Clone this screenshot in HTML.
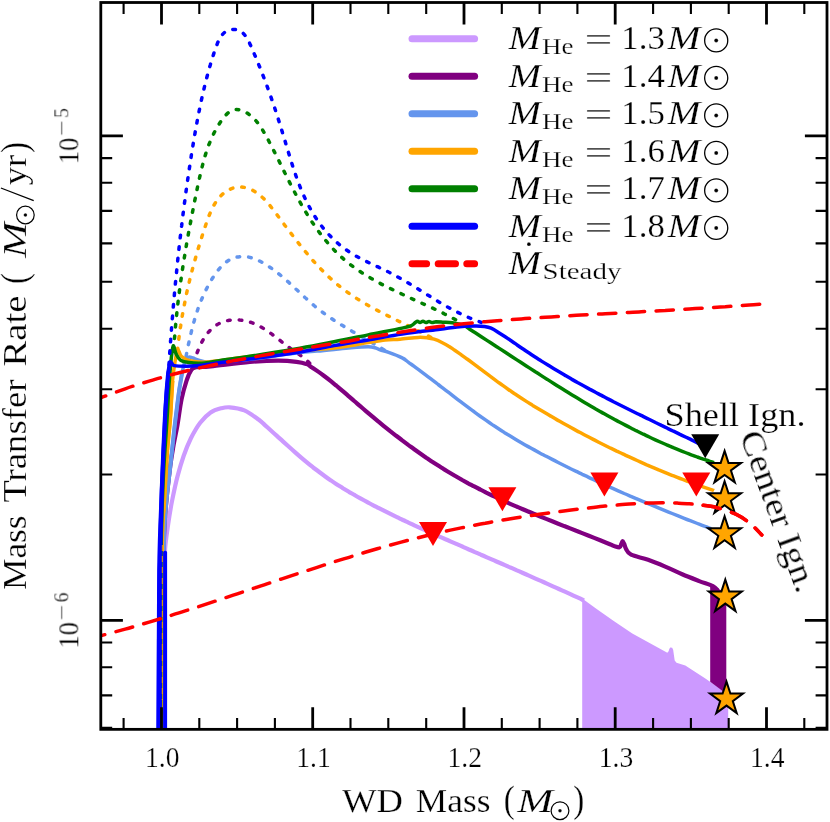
<!DOCTYPE html>
<html><head><meta charset="utf-8"><title>Mass transfer rate</title>
<style>html,body{margin:0;padding:0;background:#fff;overflow:hidden}svg{display:block;position:absolute;left:0;top:0}</style></head>
<body>
<svg width="830" height="822" viewBox="0 0 830 822">
<rect width="830" height="822" fill="#fff"/>
<defs><clipPath id="ax"><rect x="100.8" y="2.5" width="726.2" height="726.85"/></clipPath><clipPath id="ax2"><rect x="700" y="2.5" width="127.0" height="726.85"/></clipPath></defs>
<g clip-path="url(#ax)" fill="none" stroke-linejoin="round">
<path d="M582.2,729.0L582.2,598.6L586.0,601.3L597.0,609.2L614.1,621.2L632.3,633.5L656.4,646.7L667.3,652.8L668.6,651.3L669.3,649.0L670.2,647.6L672.2,647.8L673.2,650.0L673.9,655.0L674.7,660.5L676.5,662.8L685.3,665.5L704.6,678.1L723.9,691.3L728.2,694.0L728.2,729.0" fill="#cc99ff" stroke="none"/>
<path d="M162.5,728.0C162.6,713.3 162.8,664.7 163.0,640.0C163.2,615.3 163.7,595.2 164.0,580.0C164.3,564.8 164.4,558.1 165.1,548.8C165.8,539.5 167.0,532.3 168.2,524.0C169.4,515.7 170.8,507.1 172.4,499.2C174.0,491.3 175.6,483.6 177.5,476.4C179.4,469.2 181.5,462.2 183.7,455.8C185.9,449.4 188.2,443.7 190.9,438.2C193.7,432.7 196.9,427.0 200.2,422.7C203.5,418.4 207.1,414.8 210.6,412.4C214.1,410.0 217.7,409.1 220.9,408.3C224.1,407.5 225.8,407.0 229.7,407.3C233.6,407.6 239.4,408.3 244.3,410.4C249.2,412.5 255.5,417.4 258.9,419.8C262.3,422.3 262.9,423.3 264.9,425.1C266.9,426.9 268.9,428.7 270.9,430.5C272.9,432.3 274.9,434.1 276.9,435.9C278.9,437.7 280.9,439.6 282.9,441.4C284.9,443.2 286.9,445.0 288.9,446.8C290.9,448.6 292.9,450.4 294.9,452.1C296.9,453.9 298.9,455.6 300.9,457.3C302.9,459.0 304.9,460.7 306.9,462.3C308.9,464.0 310.9,465.6 312.9,467.2C314.9,468.7 316.9,470.3 318.9,471.8C320.9,473.3 322.9,474.8 324.9,476.2C326.9,477.7 328.9,479.1 330.9,480.4C332.9,481.8 334.9,483.1 336.9,484.4C338.9,485.7 340.9,486.9 342.9,488.2C344.9,489.4 346.9,490.6 348.9,491.8C350.9,492.9 352.9,494.1 354.9,495.2C356.9,496.4 358.9,497.5 360.9,498.6C362.9,499.7 364.9,500.8 366.9,501.9C368.9,503.0 370.9,504.0 372.9,505.1C374.9,506.1 376.9,507.2 378.9,508.2C380.9,509.2 382.9,510.2 384.9,511.2C386.9,512.2 388.9,513.2 390.9,514.2C392.9,515.2 394.9,516.2 396.9,517.1C398.9,518.1 400.9,519.0 402.9,520.0C404.9,520.9 406.9,521.9 408.9,522.8C410.9,523.7 412.9,524.6 414.9,525.6C416.9,526.5 418.9,527.4 420.9,528.3C422.9,529.2 424.9,530.1 426.9,531.0C428.9,531.9 430.9,532.8 432.9,533.7C434.9,534.5 436.9,535.4 438.9,536.3C440.9,537.2 442.9,538.1 444.9,539.0C446.9,539.8 448.9,540.7 450.9,541.6C452.9,542.5 454.9,543.3 456.9,544.2C458.9,545.1 460.9,546.0 462.9,546.8C464.9,547.7 466.9,548.6 468.9,549.5C470.9,550.3 472.9,551.2 474.9,552.1C476.9,552.9 478.9,553.8 480.9,554.7C482.9,555.5 484.9,556.4 486.9,557.3C488.9,558.2 490.9,559.0 492.9,559.9C494.9,560.8 496.9,561.6 498.9,562.5C500.9,563.4 502.9,564.3 504.9,565.1C506.9,566.0 508.9,566.9 510.9,567.7C512.9,568.6 514.9,569.5 516.9,570.4C518.9,571.2 520.9,572.1 522.9,573.0C524.9,573.9 526.9,574.8 528.9,575.6C530.9,576.5 532.9,577.4 534.9,578.3C536.9,579.2 538.9,580.1 540.9,580.9C542.9,581.8 544.9,582.7 546.9,583.6C548.9,584.5 550.9,585.4 552.9,586.3C554.9,587.2 556.9,588.1 558.9,589.0C560.9,589.9 562.9,590.8 564.9,591.7C566.9,592.6 568.9,593.5 570.9,594.4C572.9,595.4 574.9,596.3 576.9,597.2C578.9,598.1 581.7,599.4 582.9,600.0C584.1,600.5 583.8,600.4 584.0,600.5" stroke="#cc99ff" stroke-width="4.2" stroke-linecap="butt"/>
<path d="M710.2,584.5L726.3,593.0L726.3,693.7L710.2,681.7" fill="#800080" stroke="none"/>
<path d="M194.1,363.9C194.3,363.1 194.8,360.7 195.2,359.1C195.7,357.4 196.2,355.7 196.7,354.0C197.3,352.2 198.0,350.5 198.7,348.8C199.4,347.0 200.2,345.3 201.0,343.6C201.9,341.9 202.8,340.2 203.8,338.6C204.8,337.0 205.9,335.4 207.0,334.0C208.2,332.5 209.4,331.1 210.7,329.8C212.0,328.5 213.3,327.3 214.7,326.3C216.2,325.2 217.7,324.3 219.2,323.5C220.8,322.7 222.4,322.1 224.1,321.5C225.7,321.0 227.5,320.6 229.2,320.3C230.9,320.0 232.7,319.9 234.5,319.8C236.2,319.7 238.0,319.8 239.8,320.0C241.6,320.1 243.4,320.4 245.1,320.8C246.9,321.1 248.6,321.6 250.3,322.2C252.0,322.7 253.7,323.4 255.3,324.1C257.0,324.8 258.6,325.7 260.1,326.5C261.7,327.4 263.3,328.3 264.8,329.3C266.4,330.3 267.9,331.4 269.4,332.4C270.9,333.5 272.4,334.6 273.8,335.7C275.3,336.8 276.8,338.0 278.2,339.1C279.7,340.2 281.2,341.4 282.6,342.5C284.1,343.6 285.5,344.8 287.0,345.9C288.4,347.0 289.9,348.0 291.3,349.1C292.8,350.1 294.3,351.1 295.7,352.1C297.2,353.1 298.6,354.1 300.1,355.1C301.5,356.2 302.9,357.2 304.3,358.3C305.7,359.4 307.0,360.6 308.3,361.8C309.7,363.1 311.5,365.1 312.2,365.8" stroke="#800080" stroke-width="3.5" stroke-dasharray="2.6 9" stroke-dashoffset="0" stroke-linecap="round"/>
<path d="M162.0,728.0C162.2,706.7 162.7,632.3 163.0,600.0C163.3,567.7 163.6,550.4 164.1,534.3C164.6,518.2 165.2,514.7 166.2,503.3C167.2,491.9 169.1,475.8 170.3,466.1C171.5,456.4 172.4,451.9 173.6,445.0C174.8,438.1 176.2,432.4 177.5,424.8C178.8,417.2 180.1,406.4 181.6,399.1C183.1,391.8 184.9,385.7 186.5,380.8C188.1,375.9 189.8,372.2 191.4,369.9C193.0,367.6 193.0,367.8 196.2,367.2C199.4,366.6 201.9,367.3 210.8,366.4C219.7,365.5 238.6,363.0 249.8,362.0C261.0,361.0 270.4,360.6 278.2,360.6C286.0,360.6 291.8,361.2 296.5,361.8C301.2,362.4 303.6,363.0 306.2,363.9C308.8,364.9 310.2,366.3 312.2,367.6C314.2,368.8 316.2,370.2 318.2,371.6C320.2,373.0 322.2,374.5 324.2,376.0C326.2,377.5 328.2,379.0 330.2,380.6C332.2,382.2 334.2,383.9 336.2,385.5C338.2,387.2 340.2,388.9 342.2,390.6C344.2,392.3 346.2,394.1 348.2,395.8C350.2,397.5 352.2,399.3 354.2,401.0C356.2,402.7 358.2,404.5 360.2,406.2C362.2,407.9 364.2,409.6 366.2,411.3C368.2,413.0 370.2,414.7 372.2,416.4C374.2,418.1 376.2,419.7 378.2,421.4C380.2,423.0 382.2,424.7 384.2,426.3C386.2,427.9 388.2,429.5 390.2,431.1C392.2,432.6 394.2,434.2 396.2,435.8C398.2,437.3 400.2,438.8 402.2,440.4C404.2,441.9 406.2,443.4 408.2,444.9C410.2,446.3 412.2,447.8 414.2,449.2C416.2,450.7 418.2,452.1 420.2,453.5C422.2,454.9 424.2,456.3 426.2,457.7C428.2,459.0 430.2,460.4 432.2,461.7C434.2,463.0 436.2,464.3 438.2,465.6C440.2,466.9 442.2,468.1 444.2,469.4C446.2,470.6 448.2,471.8 450.2,473.0C452.2,474.2 454.2,475.4 456.2,476.5C458.2,477.7 460.2,478.8 462.2,480.0C464.2,481.1 466.2,482.2 468.2,483.3C470.2,484.3 472.2,485.4 474.2,486.4C476.2,487.5 478.2,488.5 480.2,489.5C482.2,490.6 484.2,491.6 486.2,492.6C488.2,493.5 490.2,494.5 492.2,495.5C494.2,496.4 496.2,497.4 498.2,498.3C500.2,499.3 502.2,500.2 504.2,501.1C506.2,502.0 508.2,502.9 510.2,503.8C512.2,504.7 514.2,505.6 516.2,506.4C518.2,507.3 520.2,508.2 522.2,509.0C524.2,509.9 526.2,510.7 528.2,511.5C530.2,512.4 532.2,513.2 534.2,514.0C536.2,514.9 538.2,515.7 540.2,516.5C542.2,517.3 544.2,518.1 546.2,518.9C548.2,519.7 550.2,520.5 552.2,521.3C554.2,522.1 556.2,522.9 558.2,523.7C560.2,524.5 562.2,525.3 564.2,526.1C566.2,526.8 568.2,527.6 570.2,528.4C572.2,529.2 574.2,530.0 576.2,530.8C578.2,531.5 580.2,532.3 582.2,533.1C584.2,533.9 586.2,534.7 588.2,535.5C590.2,536.3 592.2,537.1 594.2,537.9C596.2,538.7 598.2,539.5 600.2,540.3C602.2,541.1 604.2,541.9 606.2,542.7C608.2,543.5 610.9,544.6 612.2,545.2C613.5,545.7 612.9,545.6 614.1,546.0C615.3,546.3 618.3,547.6 619.5,547.3C620.7,547.0 620.7,545.3 621.2,544.3C621.7,543.3 622.1,541.1 622.6,541.1C623.1,541.1 623.6,542.7 624.2,544.0C624.8,545.3 624.9,547.0 626.0,548.8C627.1,550.6 627.4,552.9 631.1,554.7C634.8,556.5 642.4,557.8 648.1,559.8C653.8,561.8 659.5,564.2 665.2,566.6C670.9,569.0 676.5,571.9 682.2,574.3C687.9,576.7 694.1,579.1 699.2,581.1C704.3,583.1 709.8,584.6 712.9,586.2C716.0,587.8 717.1,589.8 718.0,590.5" stroke="#800080" stroke-width="4.2" stroke-linecap="butt"/>
<path d="M186.1,356.0C186.3,355.0 186.9,352.0 187.3,350.0C187.7,348.0 188.1,346.1 188.5,344.1C189.0,342.1 189.4,340.2 189.8,338.2C190.3,336.3 190.7,334.4 191.2,332.4C191.6,330.5 192.1,328.6 192.6,326.7C193.1,324.8 193.6,322.9 194.2,321.0C194.7,319.1 195.3,317.2 195.8,315.3C196.4,313.4 197.1,311.5 197.7,309.7C198.3,307.8 199.0,306.0 199.7,304.1C200.4,302.2 201.2,300.4 202.0,298.5C202.8,296.7 203.6,294.9 204.4,293.0C205.3,291.2 206.2,289.4 207.2,287.5C208.1,285.7 209.1,283.9 210.2,282.1C211.2,280.3 212.3,278.4 213.5,276.7C214.6,274.9 215.8,273.1 217.1,271.5C218.4,269.8 219.7,268.2 221.1,266.8C222.5,265.3 223.9,263.9 225.4,262.7C226.9,261.5 228.5,260.4 230.1,259.5C231.8,258.7 233.5,258.0 235.3,257.5C237.1,257.0 238.9,256.7 240.8,256.6C242.7,256.4 244.6,256.5 246.5,256.8C248.4,257.0 250.3,257.4 252.2,258.0C254.1,258.6 256.0,259.3 257.8,260.1C259.6,261.0 261.4,262.0 263.2,263.0C264.9,264.0 266.7,265.1 268.3,266.2C270.0,267.3 271.7,268.4 273.3,269.6C274.9,270.8 276.5,272.0 278.1,273.3C279.7,274.5 281.2,275.8 282.8,277.1C284.3,278.4 285.8,279.8 287.3,281.1C288.8,282.4 290.3,283.8 291.8,285.2C293.3,286.5 294.7,287.9 296.2,289.3C297.7,290.6 299.1,292.0 300.6,293.4C302.1,294.8 303.5,296.1 305.0,297.5C306.5,298.8 308.0,300.2 309.5,301.5C311.0,302.9 312.5,304.2 314.0,305.5C315.5,306.8 317.1,308.0 318.6,309.3C320.2,310.5 321.8,311.7 323.4,312.9C325.0,314.1 326.6,315.2 328.3,316.4C329.9,317.5 331.6,318.6 333.2,319.7C334.9,320.8 336.6,321.9 338.3,323.0C340.0,324.0 341.7,325.1 343.4,326.1C345.1,327.1 346.8,328.2 348.6,329.2C350.3,330.2 352.0,331.2 353.8,332.2C355.5,333.2 357.2,334.2 359.0,335.2C360.7,336.2 362.5,337.2 364.2,338.2C365.9,339.2 367.7,340.2 369.4,341.1C371.1,342.1 372.9,343.1 374.6,344.2C376.3,345.2 378.0,346.2 379.7,347.2C381.4,348.2 383.9,349.8 384.8,350.3" stroke="#6495ed" stroke-width="3.5" stroke-dasharray="2.6 9" stroke-dashoffset="0" stroke-linecap="round"/>
<path d="M162.0,728.0C162.2,706.7 162.7,632.3 163.0,600.0C163.3,567.7 163.6,550.4 164.1,534.3C164.6,518.2 165.2,514.7 166.2,503.3C167.2,491.9 168.9,478.7 170.3,466.1C171.7,453.6 173.2,438.5 174.4,428.0C175.6,417.5 176.7,409.7 177.5,403.0C178.3,396.3 178.7,393.1 179.5,388.0C180.3,382.9 181.8,374.9 182.2,372.3" stroke="#6495ed" stroke-width="4.0"/>
<path d="M162.0,728.0C162.2,706.7 162.7,632.3 163.0,600.0C163.3,567.7 163.6,550.4 164.1,534.3C164.6,518.2 165.2,514.7 166.2,503.3C167.2,491.9 168.9,478.7 170.3,466.1C171.7,453.6 173.2,438.5 174.4,428.0C175.6,417.5 176.7,409.7 177.5,403.0C178.3,396.3 178.7,393.1 179.5,388.0C180.3,382.9 181.2,376.9 182.2,372.3C183.2,367.7 184.2,362.6 185.3,360.1C186.4,357.6 187.6,357.5 188.9,357.1C190.2,356.8 191.4,357.5 193.0,358.0C194.6,358.5 196.1,359.4 198.7,360.1C201.3,360.8 203.2,361.9 208.4,362.0C213.6,362.1 223.1,361.4 230.0,361.0C236.9,360.6 242.3,360.1 249.8,359.3C257.3,358.5 266.6,357.1 275.0,356.0C283.4,354.9 293.0,353.3 300.0,352.5C307.0,351.7 311.3,351.6 317.0,351.1C322.7,350.6 328.4,350.0 334.1,349.4C339.8,348.8 345.4,348.1 351.1,347.7C356.8,347.3 364.1,346.8 368.1,346.8C372.1,346.8 372.9,347.2 374.9,347.7C376.9,348.2 377.8,349.0 380.1,349.8C382.4,350.6 384.9,351.0 388.6,352.3C392.3,353.6 398.9,356.2 402.2,357.9C405.5,359.5 406.2,360.7 408.2,362.1C410.2,363.5 412.2,365.0 414.2,366.4C416.2,367.9 418.2,369.3 420.2,370.8C422.2,372.3 424.2,373.8 426.2,375.3C428.2,376.8 430.2,378.4 432.2,379.9C434.2,381.4 436.2,382.9 438.2,384.5C440.2,386.0 442.2,387.6 444.2,389.1C446.2,390.6 448.2,392.2 450.2,393.7C452.2,395.3 454.2,396.8 456.2,398.3C458.2,399.8 460.2,401.4 462.2,402.9C464.2,404.4 466.2,405.9 468.2,407.4C470.2,408.9 472.2,410.4 474.2,411.8C476.2,413.3 478.2,414.8 480.2,416.2C482.2,417.6 484.2,419.0 486.2,420.4C488.2,421.8 490.2,423.2 492.2,424.6C494.2,425.9 496.2,427.2 498.2,428.5C500.2,429.8 502.2,431.1 504.2,432.4C506.2,433.6 508.2,434.9 510.2,436.1C512.2,437.3 514.2,438.5 516.2,439.7C518.2,440.9 520.2,442.1 522.2,443.2C524.2,444.4 526.2,445.5 528.2,446.6C530.2,447.7 532.2,448.8 534.2,449.9C536.2,451.0 538.2,452.1 540.2,453.2C542.2,454.2 544.2,455.3 546.2,456.3C548.2,457.4 550.2,458.4 552.2,459.4C554.2,460.5 556.2,461.5 558.2,462.5C560.2,463.5 562.2,464.5 564.2,465.5C566.2,466.5 568.2,467.5 570.2,468.5C572.2,469.4 574.2,470.4 576.2,471.4C578.2,472.4 580.2,473.3 582.2,474.3C584.2,475.2 586.2,476.2 588.2,477.1C590.2,478.1 592.2,479.0 594.2,479.9C596.2,480.9 598.2,481.8 600.2,482.7C602.2,483.6 604.2,484.5 606.2,485.4C608.2,486.4 610.2,487.3 612.2,488.1C614.2,489.0 616.2,489.9 618.2,490.8C620.2,491.7 622.2,492.6 624.2,493.5C626.2,494.3 628.2,495.2 630.2,496.1C632.2,496.9 634.2,497.8 636.2,498.6C638.2,499.5 640.2,500.3 642.2,501.2C644.2,502.0 646.2,502.9 648.2,503.7C650.2,504.6 652.2,505.4 654.2,506.2C656.2,507.0 658.2,507.9 660.2,508.7C662.2,509.5 664.2,510.3 666.2,511.1C668.2,511.9 670.2,512.7 672.2,513.5C674.2,514.3 676.2,515.1 678.2,515.9C680.2,516.7 682.2,517.5 684.2,518.3C686.2,519.1 688.2,519.9 690.2,520.6C692.2,521.4 694.2,522.2 696.2,523.0C698.2,523.8 700.2,524.5 702.2,525.3C704.2,526.1 706.7,527.0 708.2,527.6C709.7,528.2 710.7,528.5 711.2,528.7" stroke="#6495ed" stroke-width="3.5" stroke-linecap="butt"/>
<path d="M177.4,350.7C177.5,349.6 177.9,346.4 178.1,344.3C178.4,342.2 178.6,340.1 178.9,338.0C179.2,335.9 179.5,333.8 179.7,331.8C180.0,329.7 180.3,327.6 180.7,325.6C181.0,323.5 181.3,321.5 181.6,319.5C182.0,317.4 182.3,315.4 182.7,313.4C183.0,311.4 183.4,309.4 183.8,307.4C184.2,305.4 184.6,303.4 185.0,301.4C185.4,299.4 185.8,297.4 186.2,295.4C186.6,293.4 187.0,291.4 187.5,289.5C187.9,287.5 188.4,285.5 188.9,283.6C189.3,281.6 189.8,279.6 190.3,277.6C190.8,275.7 191.3,273.7 191.8,271.7C192.3,269.8 192.8,267.8 193.3,265.8C193.9,263.9 194.4,261.9 195.0,259.9C195.5,257.9 196.1,256.0 196.6,254.0C197.2,252.0 197.8,250.0 198.4,248.0C199.0,246.1 199.6,244.1 200.2,242.1C200.8,240.1 201.5,238.1 202.1,236.1C202.7,234.0 203.4,232.0 204.1,230.0C204.7,228.0 205.4,225.9 206.1,223.9C206.8,221.9 207.5,219.8 208.2,217.8C209.0,215.8 209.8,213.8 210.6,211.9C211.5,210.0 212.3,208.1 213.3,206.3C214.3,204.5 215.4,202.7 216.5,201.1C217.7,199.4 219.0,197.8 220.3,196.4C221.7,194.9 223.2,193.6 224.8,192.4C226.4,191.3 228.1,190.2 229.8,189.4C231.5,188.6 233.4,187.9 235.2,187.5C237.1,187.1 239.0,186.9 240.9,187.0C242.8,187.1 244.7,187.4 246.6,187.9C248.4,188.4 250.3,189.2 252.1,190.1C254.0,191.0 255.7,192.1 257.4,193.3C259.1,194.5 260.7,195.8 262.2,197.2C263.8,198.6 265.2,200.1 266.6,201.6C268.0,203.2 269.3,204.8 270.6,206.4C271.9,208.1 273.2,209.8 274.5,211.4C275.7,213.1 277.0,214.8 278.3,216.5C279.5,218.2 280.8,219.9 282.0,221.5C283.3,223.2 284.5,224.9 285.8,226.6C287.1,228.2 288.3,229.9 289.6,231.6C290.8,233.2 292.1,234.9 293.4,236.5C294.6,238.2 295.9,239.8 297.2,241.5C298.5,243.1 299.7,244.7 301.0,246.3C302.3,247.9 303.6,249.5 304.9,251.1C306.3,252.7 307.6,254.3 308.9,255.8C310.2,257.4 311.6,258.9 312.9,260.5C314.3,262.0 315.7,263.5 317.1,265.0C318.4,266.5 319.8,268.0 321.3,269.5C322.7,270.9 324.1,272.4 325.6,273.8C327.0,275.2 328.5,276.6 330.0,278.0C331.5,279.4 333.0,280.7 334.5,282.0C336.1,283.4 337.6,284.7 339.2,286.0C340.8,287.2 342.4,288.5 344.0,289.7C345.6,291.0 347.3,292.2 349.0,293.3C350.6,294.5 352.4,295.7 354.1,296.8C355.8,297.9 357.5,299.0 359.3,300.1C361.0,301.2 362.8,302.3 364.6,303.3C366.4,304.4 368.2,305.4 370.0,306.4C371.8,307.4 373.7,308.4 375.5,309.4C377.3,310.4 379.2,311.4 381.0,312.3C382.9,313.3 384.8,314.2 386.6,315.2C388.5,316.1 390.4,317.1 392.2,318.0C394.1,318.9 396.0,319.8 397.8,320.7C399.7,321.7 401.6,322.6 403.4,323.5C405.3,324.4 407.2,325.3 409.0,326.2C410.9,327.1 412.7,328.0 414.5,329.0C416.4,329.9 418.2,330.8 420.0,331.7C421.8,332.6 423.6,333.6 425.4,334.5C427.2,335.4 429.0,336.4 430.8,337.3C432.5,338.3 435.1,339.7 436.0,340.2" stroke="#ffa500" stroke-width="3.5" stroke-dasharray="2.6 9" stroke-dashoffset="0" stroke-linecap="round"/>
<path d="M161.5,728.0C161.6,698.1 161.6,586.2 162.0,548.8C162.4,511.3 163.2,519.5 164.1,503.3C165.0,487.1 166.2,465.6 167.2,451.7C168.2,437.8 169.4,428.6 170.1,420.0C170.8,411.4 170.9,406.5 171.3,400.0C171.7,393.5 172.3,384.0 172.5,380.8" stroke="#ffa500" stroke-width="4.0"/>
<path d="M161.5,728.0C161.6,698.1 161.6,586.2 162.0,548.8C162.4,511.3 163.2,519.5 164.1,503.3C165.0,487.1 166.2,465.6 167.2,451.7C168.2,437.8 169.4,428.6 170.1,420.0C170.8,411.4 170.9,406.5 171.3,400.0C171.7,393.5 171.9,387.0 172.5,380.8C173.1,374.6 174.1,367.7 174.9,362.6C175.7,357.5 176.7,352.2 177.4,350.4C178.1,348.5 178.3,350.5 179.0,351.5C179.7,352.5 179.8,354.9 181.6,356.5C183.4,358.1 186.4,359.8 190.1,360.8C193.8,361.8 198.5,362.4 204.0,362.3C209.5,362.2 215.4,361.2 223.0,360.2C230.6,359.2 239.3,357.8 249.8,356.5C260.3,355.2 276.0,353.7 286.0,352.6C296.0,351.5 302.0,350.8 310.0,350.0C318.0,349.2 327.2,348.7 334.1,348.0C341.0,347.3 345.4,346.5 351.1,345.6C356.8,344.7 362.4,343.5 368.1,342.6C373.8,341.7 379.9,340.6 385.2,340.0C390.5,339.4 394.5,339.6 400.0,339.2C405.5,338.8 413.5,337.6 418.2,337.4C422.9,337.2 425.4,337.6 428.0,337.9C430.6,338.2 431.9,338.5 434.1,339.2C436.3,339.9 439.0,341.0 441.4,342.2C443.8,343.4 446.5,344.8 448.7,346.2C450.9,347.5 452.7,348.9 454.7,350.2C456.7,351.6 458.7,353.0 460.7,354.4C462.7,355.9 464.7,357.3 466.7,358.8C468.7,360.2 470.7,361.7 472.7,363.2C474.7,364.7 476.7,366.2 478.7,367.7C480.7,369.2 482.7,370.7 484.7,372.2C486.7,373.7 488.7,375.2 490.7,376.6C492.7,378.1 494.7,379.6 496.7,381.1C498.7,382.5 500.7,384.0 502.7,385.4C504.7,386.9 506.7,388.3 508.7,389.7C510.7,391.1 512.7,392.4 514.7,393.8C516.7,395.1 518.7,396.4 520.7,397.7C522.7,399.0 524.7,400.3 526.7,401.6C528.7,402.9 530.7,404.1 532.7,405.4C534.7,406.6 536.7,407.8 538.7,409.0C540.7,410.2 542.7,411.4 544.7,412.6C546.7,413.8 548.7,415.0 550.7,416.1C552.7,417.3 554.7,418.5 556.7,419.6C558.7,420.7 560.7,421.9 562.7,423.0C564.7,424.1 566.7,425.2 568.7,426.3C570.7,427.4 572.7,428.5 574.7,429.6C576.7,430.7 578.7,431.8 580.7,432.8C582.7,433.9 584.7,435.0 586.7,436.0C588.7,437.1 590.7,438.1 592.7,439.1C594.7,440.2 596.7,441.2 598.7,442.2C600.7,443.2 602.7,444.2 604.7,445.2C606.7,446.2 608.7,447.2 610.7,448.2C612.7,449.1 614.7,450.1 616.7,451.1C618.7,452.0 620.7,453.0 622.7,453.9C624.7,454.8 626.7,455.8 628.7,456.7C630.7,457.6 632.7,458.5 634.7,459.4C636.7,460.3 638.7,461.2 640.7,462.1C642.7,463.0 644.7,463.9 646.7,464.8C648.7,465.6 650.7,466.5 652.7,467.3C654.7,468.2 656.7,469.0 658.7,469.9C660.7,470.7 662.7,471.5 664.7,472.3C666.7,473.2 668.7,474.0 670.7,474.8C672.7,475.6 674.7,476.3 676.7,477.1C678.7,477.9 680.7,478.7 682.7,479.4C684.7,480.2 686.7,480.9 688.7,481.7C690.7,482.4 692.7,483.2 694.7,483.9C696.7,484.6 698.7,485.3 700.7,486.0C702.7,486.8 704.7,487.5 706.7,488.1C708.7,488.8 711.5,489.8 712.7,490.2C713.9,490.6 713.8,490.5 714.0,490.6" stroke="#ffa500" stroke-width="3.5" stroke-linecap="butt"/>
<path d="M173.7,350.1C173.8,349.1 174.0,346.1 174.1,344.1C174.2,342.1 174.4,340.1 174.5,338.1C174.7,336.1 174.9,334.1 175.0,332.1C175.2,330.1 175.4,328.1 175.5,326.2C175.7,324.2 175.9,322.2 176.1,320.2C176.3,318.2 176.5,316.2 176.7,314.3C176.9,312.3 177.1,310.3 177.3,308.3C177.6,306.4 177.8,304.4 178.0,302.4C178.2,300.5 178.5,298.5 178.7,296.5C179.0,294.6 179.2,292.6 179.5,290.6C179.7,288.7 180.0,286.7 180.3,284.8C180.5,282.8 180.8,280.8 181.1,278.9C181.4,276.9 181.6,275.0 181.9,273.0C182.2,271.1 182.5,269.1 182.8,267.2C183.1,265.2 183.4,263.2 183.7,261.3C184.0,259.3 184.4,257.4 184.7,255.5C185.0,253.5 185.3,251.6 185.6,249.6C186.0,247.7 186.3,245.7 186.6,243.8C187.0,241.8 187.3,239.9 187.7,237.9C188.0,236.0 188.4,234.0 188.7,232.1C189.1,230.1 189.4,228.2 189.8,226.2C190.2,224.3 190.5,222.3 190.9,220.4C191.3,218.4 191.6,216.5 192.0,214.5C192.4,212.6 192.8,210.7 193.2,208.7C193.6,206.8 193.9,204.8 194.3,202.8C194.7,200.9 195.1,198.9 195.5,197.0C195.9,195.0 196.3,193.1 196.7,191.1C197.1,189.2 197.5,187.2 197.9,185.2C198.4,183.3 198.8,181.3 199.2,179.4C199.6,177.4 200.1,175.5 200.5,173.5C201.0,171.6 201.4,169.6 201.9,167.7C202.4,165.7 202.9,163.8 203.4,161.9C203.9,159.9 204.5,158.0 205.0,156.1C205.6,154.2 206.2,152.3 206.8,150.4C207.5,148.5 208.1,146.7 208.8,144.8C209.6,143.0 210.3,141.1 211.1,139.3C211.9,137.5 212.7,135.7 213.6,133.9C214.5,132.1 215.4,130.4 216.4,128.6C217.4,126.9 218.4,125.2 219.5,123.5C220.6,121.8 221.7,120.1 222.9,118.5C224.1,117.0 225.4,115.4 226.8,114.1C228.1,112.9 229.5,111.7 231.0,110.9C232.6,110.1 234.2,109.6 235.8,109.5C237.5,109.4 239.3,109.7 241.1,110.2C242.8,110.7 244.7,111.6 246.3,112.6C248.0,113.6 249.6,114.7 251.1,116.0C252.6,117.2 254.0,118.7 255.3,120.1C256.7,121.6 257.9,123.2 259.1,124.9C260.3,126.5 261.5,128.3 262.6,130.0C263.7,131.8 264.7,133.6 265.8,135.5C266.8,137.3 267.8,139.1 268.8,141.0C269.7,142.8 270.7,144.6 271.6,146.5C272.6,148.3 273.5,150.1 274.4,151.9C275.3,153.7 276.2,155.5 277.1,157.3C278.0,159.1 278.9,160.8 279.8,162.6C280.7,164.4 281.5,166.1 282.4,167.9C283.3,169.7 284.1,171.4 285.0,173.2C285.9,174.9 286.7,176.7 287.6,178.4C288.5,180.2 289.3,181.9 290.2,183.6C291.1,185.4 292.0,187.1 292.9,188.8C293.8,190.6 294.7,192.3 295.6,194.0C296.5,195.7 297.4,197.4 298.4,199.2C299.3,200.9 300.3,202.6 301.2,204.3C302.2,206.1 303.2,207.8 304.2,209.5C305.2,211.2 306.3,212.9 307.3,214.6C308.4,216.3 309.4,218.0 310.5,219.7C311.6,221.4 312.7,223.0 313.9,224.7C315.0,226.4 316.1,228.0 317.3,229.6C318.5,231.3 319.7,232.9 320.9,234.5C322.1,236.1 323.3,237.6 324.6,239.2C325.9,240.7 327.2,242.3 328.5,243.8C329.8,245.3 331.1,246.8 332.4,248.2C333.8,249.7 335.2,251.1 336.6,252.5C338.0,253.9 339.4,255.2 340.9,256.6C342.3,257.9 343.8,259.2 345.3,260.5C346.8,261.7 348.3,263.0 349.9,264.2C351.4,265.4 353.0,266.6 354.6,267.7C356.2,268.9 357.8,270.0 359.5,271.1C361.1,272.2 362.7,273.2 364.4,274.3C366.1,275.3 367.8,276.4 369.5,277.4C371.2,278.4 372.9,279.4 374.6,280.4C376.3,281.3 378.1,282.3 379.8,283.2C381.6,284.2 383.3,285.1 385.1,286.0C386.9,286.9 388.7,287.8 390.5,288.7C392.3,289.5 394.1,290.4 395.9,291.3C397.7,292.1 399.5,293.0 401.3,293.8C403.1,294.7 404.9,295.5 406.7,296.4C408.6,297.2 410.4,298.0 412.2,298.9C414.0,299.7 415.8,300.5 417.7,301.3C419.5,302.2 421.3,303.0 423.1,303.8C424.9,304.6 426.8,305.5 428.6,306.3C430.4,307.1 432.2,308.0 434.0,308.8C435.8,309.7 437.5,310.5 439.3,311.4C441.1,312.2 442.9,313.1 444.6,314.0C446.4,314.9 448.1,315.7 449.9,316.6C451.6,317.6 453.3,318.5 455.0,319.4C456.8,320.3 459.3,321.8 460.1,322.2" stroke="#008000" stroke-width="3.5" stroke-dasharray="2.6 9" stroke-dashoffset="0" stroke-linecap="round"/>
<path d="M160.5,728.0C160.6,700.0 160.6,601.3 161.0,560.0C161.4,518.7 162.2,503.3 163.2,480.0C164.2,456.7 166.0,435.8 167.0,420.0C168.0,404.2 168.3,395.3 169.0,385.0C169.7,374.7 170.6,364.5 171.3,358.0C172.0,351.5 172.6,347.7 173.1,346.2C173.6,344.7 174.0,347.7 174.5,349.0C175.0,350.3 175.2,352.2 176.2,354.1C177.2,356.0 178.3,358.7 180.4,360.1C182.5,361.5 184.9,362.1 188.9,362.6C192.9,363.1 199.0,363.4 204.7,363.0C210.4,362.6 215.5,361.0 223.0,359.9C230.5,358.8 237.0,358.2 249.8,356.3C262.6,354.4 285.9,350.6 300.0,348.2C314.1,345.8 322.8,344.0 334.1,341.8C345.5,339.6 356.8,337.2 368.1,334.9C379.5,332.6 394.9,329.7 402.2,328.1C409.4,326.5 409.5,326.4 411.6,325.5C413.7,324.6 414.0,323.5 415.0,322.8C416.0,322.1 416.7,321.3 417.5,321.3C418.3,321.3 419.1,322.6 420.0,322.6C420.9,322.6 422.0,321.2 423.0,321.2C424.0,321.2 425.0,322.6 426.0,322.6C427.0,322.6 428.0,321.4 429.0,321.4C430.0,321.4 430.8,322.4 432.0,322.5C433.2,322.6 434.2,321.9 436.0,321.8C437.8,321.8 439.9,322.0 442.6,322.2C445.3,322.4 448.9,322.3 452.3,322.8C455.8,323.3 460.5,324.2 463.3,325.2C466.1,326.2 467.3,327.7 469.3,329.0C471.3,330.3 473.3,331.6 475.3,332.8C477.3,334.1 479.3,335.4 481.3,336.7C483.3,338.0 485.3,339.3 487.3,340.6C489.3,341.9 491.3,343.2 493.3,344.5C495.3,345.8 497.3,347.1 499.3,348.4C501.3,349.7 503.3,351.0 505.3,352.3C507.3,353.6 509.3,354.9 511.3,356.2C513.3,357.5 515.3,358.8 517.3,360.1C519.3,361.4 521.3,362.7 523.3,364.0C525.3,365.3 527.3,366.6 529.3,367.9C531.3,369.2 533.3,370.5 535.3,371.8C537.3,373.0 539.3,374.3 541.3,375.6C543.3,376.9 545.3,378.2 547.3,379.4C549.3,380.7 551.3,382.0 553.3,383.2C555.3,384.5 557.3,385.8 559.3,387.0C561.3,388.3 563.3,389.5 565.3,390.7C567.3,392.0 569.3,393.2 571.3,394.4C573.3,395.6 575.3,396.9 577.3,398.1C579.3,399.3 581.3,400.5 583.3,401.7C585.3,402.9 587.3,404.0 589.3,405.2C591.3,406.4 593.3,407.5 595.3,408.7C597.3,409.8 599.3,411.0 601.3,412.1C603.3,413.2 605.3,414.4 607.3,415.5C609.3,416.6 611.3,417.7 613.3,418.8C615.3,419.9 617.3,420.9 619.3,422.0C621.3,423.1 623.3,424.1 625.3,425.1C627.3,426.2 629.3,427.2 631.3,428.2C633.3,429.2 635.3,430.3 637.3,431.2C639.3,432.2 641.3,433.2 643.3,434.2C645.3,435.1 647.3,436.1 649.3,437.0C651.3,438.0 653.3,438.9 655.3,439.8C657.3,440.7 659.3,441.6 661.3,442.5C663.3,443.4 665.3,444.3 667.3,445.1C669.3,446.0 671.3,446.8 673.3,447.7C675.3,448.5 677.3,449.3 679.3,450.1C681.3,450.9 683.3,451.7 685.3,452.5C687.3,453.3 689.3,454.0 691.3,454.8C693.3,455.5 695.3,456.2 697.3,457.0C699.3,457.7 701.3,458.4 703.3,459.1C705.3,459.7 707.5,460.5 709.3,461.1C711.1,461.6 713.2,462.3 714.0,462.6" stroke="#008000" stroke-width="3.5" stroke-linecap="butt"/>
<path d="M167.6,388.1C167.6,387.1 167.8,384.0 167.9,382.0C168.1,380.0 168.2,378.0 168.3,376.0C168.4,373.9 168.5,371.9 168.7,369.9C168.8,367.9 168.9,365.9 169.0,363.9C169.2,361.9 169.3,359.8 169.4,357.8C169.6,355.8 169.7,353.8 169.8,351.8C170.0,349.8 170.1,347.8 170.3,345.7C170.4,343.7 170.5,341.7 170.7,339.7C170.8,337.7 171.0,335.7 171.1,333.7C171.3,331.7 171.4,329.7 171.6,327.7C171.8,325.6 171.9,323.6 172.1,321.6C172.2,319.6 172.4,317.6 172.6,315.6C172.7,313.6 172.9,311.6 173.1,309.6C173.2,307.6 173.4,305.6 173.6,303.6C173.7,301.6 173.9,299.6 174.1,297.6C174.3,295.6 174.5,293.5 174.6,291.5C174.8,289.5 175.0,287.5 175.2,285.5C175.4,283.5 175.6,281.5 175.8,279.5C176.0,277.5 176.2,275.5 176.4,273.5C176.6,271.5 176.8,269.5 177.0,267.5C177.2,265.5 177.4,263.5 177.6,261.5C177.8,259.5 178.0,257.5 178.2,255.5C178.5,253.5 178.7,251.5 178.9,249.5C179.1,247.5 179.3,245.5 179.6,243.5C179.8,241.5 180.0,239.5 180.2,237.5C180.5,235.5 180.7,233.5 180.9,231.5C181.2,229.5 181.4,227.5 181.7,225.5C181.9,223.5 182.1,221.5 182.4,219.5C182.6,217.5 182.9,215.5 183.1,213.5C183.4,211.5 183.7,209.5 183.9,207.5C184.2,205.5 184.4,203.5 184.7,201.5C185.0,199.5 185.2,197.5 185.5,195.5C185.8,193.5 186.0,191.5 186.3,189.5C186.6,187.5 186.9,185.5 187.2,183.5C187.4,181.6 187.7,179.6 188.0,177.6C188.3,175.6 188.6,173.6 188.9,171.6C189.2,169.6 189.5,167.6 189.8,165.6C190.1,163.6 190.4,161.6 190.7,159.6C191.0,157.6 191.3,155.6 191.6,153.6C191.9,151.6 192.3,149.6 192.6,147.6C192.9,145.6 193.2,143.6 193.6,141.6C193.9,139.6 194.2,137.6 194.6,135.6C194.9,133.6 195.3,131.6 195.6,129.7C196.0,127.7 196.3,125.7 196.7,123.7C197.1,121.7 197.4,119.7 197.8,117.8C198.2,115.8 198.6,113.8 199.0,111.8C199.4,109.9 199.8,107.9 200.2,105.9C200.6,104.0 201.0,102.0 201.4,100.1C201.8,98.1 202.3,96.2 202.7,94.2C203.2,92.3 203.6,90.3 204.1,88.4C204.6,86.4 205.0,84.5 205.5,82.6C206.0,80.6 206.5,78.7 207.0,76.8C207.5,74.9 208.0,73.0 208.5,71.1C209.1,69.2 209.6,67.3 210.2,65.3C210.7,63.4 211.3,61.5 211.9,59.6C212.5,57.6 213.1,55.7 213.8,53.6C214.4,51.6 215.1,49.6 215.9,47.5C216.6,45.5 217.4,43.3 218.3,41.4C219.2,39.5 220.1,37.6 221.3,36.0C222.5,34.4 223.8,32.9 225.4,31.8C226.9,30.8 228.8,30.0 230.6,29.7C232.5,29.3 234.7,29.3 236.5,29.7C238.3,30.0 240.0,30.8 241.4,31.9C242.9,32.9 244.2,34.3 245.3,35.8C246.5,37.3 247.5,39.2 248.5,41.0C249.5,42.8 250.3,44.8 251.2,46.7C252.0,48.7 252.9,50.6 253.7,52.6C254.5,54.5 255.4,56.4 256.2,58.3C257.0,60.3 257.7,62.2 258.5,64.1C259.3,66.0 260.1,67.9 260.8,69.8C261.6,71.7 262.3,73.6 263.0,75.5C263.8,77.4 264.5,79.2 265.2,81.1C265.9,83.0 266.6,84.9 267.3,86.8C268.0,88.6 268.6,90.5 269.3,92.4C270.0,94.3 270.6,96.2 271.3,98.0C271.9,99.9 272.6,101.8 273.2,103.7C273.9,105.5 274.5,107.4 275.1,109.3C275.7,111.2 276.4,113.1 277.0,115.0C277.6,116.9 278.2,118.8 278.8,120.7C279.4,122.6 280.0,124.5 280.6,126.4C281.2,128.3 281.8,130.2 282.3,132.1C282.9,134.0 283.5,136.0 284.1,137.9C284.7,139.8 285.3,141.8 285.8,143.7C286.4,145.7 287.0,147.6 287.6,149.6C288.2,151.5 288.8,153.5 289.4,155.4C290.0,157.4 290.6,159.3 291.2,161.3C291.8,163.2 292.4,165.2 293.0,167.1C293.7,169.1 294.3,171.0 295.0,172.9C295.6,174.9 296.3,176.8 297.0,178.7C297.7,180.6 298.4,182.5 299.1,184.4C299.9,186.3 300.6,188.2 301.4,190.1C302.2,191.9 303.0,193.8 303.8,195.6C304.6,197.5 305.5,199.3 306.3,201.1C307.2,202.9 308.1,204.7 309.1,206.5C310.0,208.2 311.0,210.0 312.0,211.7C313.0,213.4 314.0,215.1 315.1,216.8C316.2,218.5 317.3,220.1 318.4,221.7C319.6,223.4 320.8,225.0 322.0,226.5C323.2,228.1 324.5,229.6 325.8,231.2C327.1,232.7 328.4,234.1 329.8,235.6C331.2,237.0 332.6,238.4 334.0,239.8C335.5,241.2 336.9,242.5 338.5,243.8C340.0,245.1 341.5,246.3 343.1,247.5C344.7,248.7 346.3,249.9 348.0,251.0C349.6,252.2 351.3,253.2 353.0,254.3C354.7,255.3 356.5,256.3 358.3,257.3C360.0,258.2 361.8,259.2 363.6,260.1C365.4,261.0 367.3,261.9 369.1,262.8C370.9,263.7 372.8,264.5 374.6,265.4C376.4,266.3 378.3,267.1 380.1,268.0C382.0,268.9 383.8,269.7 385.7,270.6C387.5,271.5 389.3,272.4 391.1,273.4C392.9,274.3 394.7,275.2 396.5,276.2C398.2,277.2 400.0,278.2 401.8,279.2C403.5,280.2 405.2,281.2 407.0,282.2C408.7,283.2 410.4,284.3 412.1,285.3C413.9,286.4 415.6,287.4 417.3,288.5C419.0,289.5 420.7,290.6 422.4,291.7C424.1,292.7 425.8,293.8 427.5,294.9C429.2,295.9 430.9,297.0 432.6,298.0C434.3,299.1 436.0,300.2 437.7,301.2C439.4,302.2 441.2,303.3 442.9,304.3C444.6,305.3 446.4,306.3 448.1,307.3C449.9,308.3 451.6,309.2 453.4,310.2C455.2,311.1 457.0,312.0 458.8,312.9C460.6,313.8 462.4,314.7 464.2,315.6C466.1,316.4 467.9,317.2 469.8,318.0C471.7,318.8 473.6,319.6 475.5,320.3C477.4,321.0 480.4,322.0 481.3,322.4" stroke="#0000ff" stroke-width="3.5" stroke-dasharray="2.6 9" stroke-dashoffset="0" stroke-linecap="round"/>
<path d="M156.3,730 L157.25,600 L158.4,540 L159.7,490 L161.3,450 L163,415 L164.6,390 L166.2,372 L168.2,362 L169.6,372 L168.9,390 L167.3,415 L165.5,450 L164,490 L162.6,540 L162,600 L161.9,730Z" fill="#0000ff" stroke="none"/>
<path d="M162.3,545V700" stroke="#ffa500" stroke-width="0.9" stroke-dasharray="6 5"/>
<path d="M158.5,728.0C158.6,701.7 158.3,611.3 158.9,570.0C159.5,528.7 161.0,505.0 162.0,480.0C163.0,455.0 164.1,434.5 164.8,420.0C165.5,405.5 165.8,400.6 166.4,393.0C167.0,385.4 167.6,379.8 168.2,374.7C168.8,369.6 169.5,364.5 170.1,362.6C170.7,360.7 171.3,363.0 172.0,363.5C172.7,364.0 171.9,365.2 174.3,365.6C176.7,366.1 182.4,366.2 186.5,366.2C190.6,366.2 193.6,366.1 198.7,365.6C203.8,365.1 208.4,364.1 216.9,363.0C225.4,361.9 236.0,360.8 249.8,359.0C263.7,357.2 285.9,354.2 300.0,352.0C314.1,349.8 322.8,347.6 334.1,345.6C345.5,343.6 356.8,341.9 368.1,340.0C379.5,338.1 390.2,335.9 402.2,334.1C414.2,332.3 430.9,330.4 440.0,329.2C449.1,328.0 451.3,327.4 457.0,326.9C462.7,326.3 469.6,326.0 474.1,325.9C478.7,325.8 481.5,326.0 484.3,326.4C487.1,326.8 488.6,327.0 491.1,328.1C493.7,329.2 496.2,331.0 499.6,333.2C503.0,335.4 508.5,339.0 511.5,341.0C514.5,343.0 515.5,343.8 517.5,345.2C519.5,346.6 521.5,348.0 523.5,349.3C525.5,350.7 527.5,352.0 529.5,353.3C531.5,354.7 533.5,356.0 535.5,357.3C537.5,358.6 539.5,359.8 541.5,361.1C543.5,362.4 545.5,363.6 547.5,364.8C549.5,366.1 551.5,367.3 553.5,368.5C555.5,369.7 557.5,370.9 559.5,372.1C561.5,373.3 563.5,374.5 565.5,375.6C567.5,376.8 569.5,377.9 571.5,379.1C573.5,380.2 575.5,381.3 577.5,382.5C579.5,383.6 581.5,384.7 583.5,385.8C585.5,386.9 587.5,388.0 589.5,389.1C591.5,390.1 593.5,391.2 595.5,392.3C597.5,393.3 599.5,394.4 601.5,395.4C603.5,396.5 605.5,397.5 607.5,398.6C609.5,399.6 611.5,400.6 613.5,401.7C615.5,402.7 617.5,403.7 619.5,404.7C621.5,405.7 623.5,406.7 625.5,407.7C627.5,408.7 629.5,409.7 631.5,410.7C633.5,411.7 635.5,412.7 637.5,413.7C639.5,414.7 641.5,415.6 643.5,416.6C645.5,417.6 647.5,418.6 649.5,419.5C651.5,420.5 653.5,421.5 655.5,422.5C657.5,423.4 659.5,424.4 661.5,425.4C663.5,426.3 665.5,427.3 667.5,428.3C669.5,429.2 671.5,430.2 673.5,431.2C675.5,432.1 677.5,433.1 679.5,434.1C681.5,435.0 683.5,436.0 685.5,437.0C687.5,438.0 689.5,438.9 691.5,439.9C693.5,440.9 696.1,442.2 697.5,442.9C698.9,443.6 699.6,443.9 700.0,444.1" stroke="#0000ff" stroke-width="3.5" stroke-linecap="butt"/>
<path d="M101.2,397.7C103.2,397.0 109.2,394.6 113.2,393.1C117.2,391.6 121.2,390.2 125.2,388.8C129.2,387.4 133.2,386.1 137.2,384.8C141.2,383.5 145.2,382.3 149.2,381.1C153.2,379.9 157.2,378.7 161.2,377.6C165.2,376.5 169.2,375.4 173.2,374.3C177.2,373.3 181.2,372.3 185.2,371.3C189.2,370.3 193.2,369.3 197.2,368.4C201.2,367.5 205.2,366.6 209.2,365.7C213.2,364.9 217.2,364.0 221.2,363.2C225.2,362.4 229.2,361.6 233.2,360.8C237.2,360.0 241.2,359.3 245.2,358.6C249.2,357.8 253.2,357.1 257.2,356.4C261.2,355.7 265.2,355.0 269.2,354.3C273.2,353.6 277.2,352.9 281.2,352.2C285.2,351.6 289.2,350.9 293.2,350.2C297.2,349.6 301.2,348.9 305.2,348.3C309.2,347.6 313.2,346.9 317.2,346.3C321.2,345.6 325.2,345.0 329.2,344.3C333.2,343.6 337.2,342.9 341.2,342.2C345.2,341.6 349.2,340.9 353.2,340.2C357.2,339.5 361.2,338.8 365.2,338.1C369.2,337.4 373.2,336.7 377.2,336.1C381.2,335.4 385.2,334.7 389.2,334.0C393.2,333.4 397.2,332.7 401.2,332.1C405.2,331.4 409.2,330.8 413.2,330.2C417.2,329.6 421.2,329.0 425.2,328.4C429.2,327.9 433.2,327.3 437.2,326.8C441.2,326.3 445.2,325.8 449.2,325.3C453.2,324.9 457.2,324.4 461.2,324.0C465.2,323.6 469.2,323.2 473.2,322.8C477.2,322.4 481.2,322.1 485.2,321.7C489.2,321.4 493.2,321.0 497.2,320.7C501.2,320.4 505.2,320.1 509.2,319.8C513.2,319.5 517.2,319.2 521.2,318.9C525.2,318.7 529.2,318.4 533.2,318.1C537.2,317.8 541.2,317.6 545.2,317.3C549.2,317.1 553.2,316.8 557.2,316.6C561.2,316.3 565.2,316.1 569.2,315.8C573.2,315.6 577.2,315.4 581.2,315.1C585.2,314.9 589.2,314.7 593.2,314.4C597.2,314.2 601.2,314.0 605.2,313.7C609.2,313.5 613.2,313.3 617.2,313.1C621.2,312.8 625.2,312.6 629.2,312.4C633.2,312.2 637.2,312.0 641.2,311.7C645.2,311.5 649.2,311.3 653.2,311.1C657.2,310.8 661.2,310.6 665.2,310.4C669.2,310.1 673.2,309.9 677.2,309.7C681.2,309.4 685.2,309.2 689.2,309.0C693.2,308.7 697.2,308.5 701.2,308.2C705.2,308.0 709.2,307.7 713.2,307.5C717.2,307.2 721.2,306.9 725.2,306.7C729.2,306.4 733.2,306.1 737.2,305.8C741.2,305.6 745.2,305.3 749.2,305.0C753.2,304.7 759.1,304.2 761.2,304.1C763.3,303.9 761.9,304.0 762.0,304.0" stroke="#ff0000" stroke-width="3.5" stroke-dasharray="17.3 11.5" stroke-dashoffset="12.4" stroke-linecap="round"/>
<path d="M101.2,635.6C103.2,635.1 109.2,633.5 113.2,632.4C117.2,631.3 121.2,630.2 125.2,629.1C129.2,628.0 133.2,626.8 137.2,625.6C141.2,624.5 145.2,623.3 149.2,622.1C153.2,620.9 157.2,619.7 161.2,618.5C165.2,617.2 169.2,616.0 173.2,614.7C177.2,613.5 181.2,612.2 185.2,610.9C189.2,609.6 193.2,608.3 197.2,607.1C201.2,605.8 205.2,604.4 209.2,603.1C213.2,601.8 217.2,600.5 221.2,599.2C225.2,597.8 229.2,596.5 233.2,595.2C237.2,593.8 241.2,592.5 245.2,591.2C249.2,589.8 253.2,588.5 257.2,587.1C261.2,585.8 265.2,584.5 269.2,583.1C273.2,581.8 277.2,580.4 281.2,579.1C285.2,577.8 289.2,576.4 293.2,575.1C297.2,573.8 301.2,572.5 305.2,571.2C309.2,569.9 313.2,568.6 317.2,567.3C321.2,566.0 325.2,564.7 329.2,563.4C333.2,562.1 337.2,560.9 341.2,559.6C345.2,558.4 349.2,557.2 353.2,555.9C357.2,554.7 361.2,553.5 365.2,552.3C369.2,551.1 373.2,550.0 377.2,548.8C381.2,547.7 385.2,546.5 389.2,545.4C393.2,544.3 397.2,543.2 401.2,542.1C405.2,541.1 409.2,540.0 413.2,539.0C417.2,538.0 421.2,537.0 425.2,536.0C429.2,535.0 433.2,534.1 437.2,533.1C441.2,532.2 445.2,531.3 449.2,530.4C453.2,529.6 457.2,528.7 461.2,527.9C465.2,527.1 469.2,526.3 473.2,525.5C477.2,524.7 481.2,523.9 485.2,523.2C489.2,522.4 493.2,521.7 497.2,521.0C501.2,520.3 505.2,519.6 509.2,519.0C513.2,518.3 517.2,517.7 521.2,517.0C525.2,516.4 529.2,515.8 533.2,515.2C537.2,514.6 541.2,514.1 545.2,513.5C549.2,512.9 553.2,512.4 557.2,511.9C561.2,511.3 565.2,510.8 569.2,510.3C573.2,509.8 577.2,509.3 581.2,508.8C585.2,508.4 589.2,507.9 593.2,507.4C597.2,507.0 601.2,506.6 605.2,506.1C609.2,505.7 613.2,505.3 617.2,505.0C621.2,504.6 625.2,504.3 629.2,504.0C633.2,503.7 637.2,503.5 641.2,503.3C645.2,503.1 649.2,502.9 653.2,502.9C657.2,502.8 661.2,502.7 665.2,502.8C669.2,502.8 673.2,502.9 677.2,503.1C681.2,503.3 685.5,503.5 689.2,503.8C692.9,504.1 694.7,504.2 699.2,504.9C703.7,505.5 710.1,505.9 716.3,507.5C722.5,509.1 730.5,511.6 736.3,514.4C742.1,517.2 746.6,520.7 750.9,524.1C755.1,527.5 760.0,533.2 761.8,535.0" stroke="#ff0000" stroke-width="3.5" stroke-dasharray="17.3 11.5" stroke-dashoffset="13.5" stroke-linecap="round"/>
<rect x="163.1" y="550.8" width="4" height="180" rx="1.8" fill="#0000ff"/>
</g>
<g stroke="#000" fill="none">
<path d="M123.6,729.35V717.95M123.6,2.5V13.9" stroke-width="2.1"/>
<path d="M161.5,729.35V707.25M161.5,2.5V24.6" stroke-width="2.8"/>
<path d="M199.3,729.35V717.95M199.3,2.5V13.9" stroke-width="2.1"/>
<path d="M237.1,729.35V717.95M237.1,2.5V13.9" stroke-width="2.1"/>
<path d="M274.9,729.35V717.95M274.9,2.5V13.9" stroke-width="2.1"/>
<path d="M312.7,729.35V707.25M312.7,2.5V24.6" stroke-width="2.8"/>
<path d="M350.5,729.35V717.95M350.5,2.5V13.9" stroke-width="2.1"/>
<path d="M388.3,729.35V717.95M388.3,2.5V13.9" stroke-width="2.1"/>
<path d="M426.2,729.35V717.95M426.2,2.5V13.9" stroke-width="2.1"/>
<path d="M464.0,729.35V707.25M464.0,2.5V24.6" stroke-width="2.8"/>
<path d="M501.8,729.35V717.95M501.8,2.5V13.9" stroke-width="2.1"/>
<path d="M539.6,729.35V717.95M539.6,2.5V13.9" stroke-width="2.1"/>
<path d="M577.4,729.35V717.95M577.4,2.5V13.9" stroke-width="2.1"/>
<path d="M615.2,729.35V707.25M615.2,2.5V24.6" stroke-width="2.8"/>
<path d="M653.1,729.35V717.95M653.1,2.5V13.9" stroke-width="2.1"/>
<path d="M690.9,729.35V717.95M690.9,2.5V13.9" stroke-width="2.1"/>
<path d="M728.7,729.35V717.95M728.7,2.5V13.9" stroke-width="2.1"/>
<path d="M766.5,729.35V707.25M766.5,2.5V24.6" stroke-width="2.8"/>
<path d="M804.3,729.35V717.95M804.3,2.5V13.9" stroke-width="2.1"/>
<path d="M100.8,135.9H122.9M827.0,135.9H804.9" stroke-width="2.8"/>
<path d="M100.8,620.4H122.9M827.0,620.4H804.9" stroke-width="2.8"/>
<path d="M100.8,474.5H112.2M827.0,474.5H815.6" stroke-width="2.1"/>
<path d="M100.8,389.2H112.2M827.0,389.2H815.6" stroke-width="2.1"/>
<path d="M100.8,328.7H112.2M827.0,328.7H815.6" stroke-width="2.1"/>
<path d="M100.8,281.7H112.2M827.0,281.7H815.6" stroke-width="2.1"/>
<path d="M100.8,243.4H112.2M827.0,243.4H815.6" stroke-width="2.1"/>
<path d="M100.8,210.9H112.2M827.0,210.9H815.6" stroke-width="2.1"/>
<path d="M100.8,182.8H112.2M827.0,182.8H815.6" stroke-width="2.1"/>
<path d="M100.8,158.1H112.2M827.0,158.1H815.6" stroke-width="2.1"/>
<path d="M100.8,727.8H112.2M827.0,727.8H815.6" stroke-width="2.1"/>
<path d="M100.8,695.4H112.2M827.0,695.4H815.6" stroke-width="2.1"/>
<path d="M100.8,667.3H112.2M827.0,667.3H815.6" stroke-width="2.1"/>
<path d="M100.8,642.5H112.2M827.0,642.5H815.6" stroke-width="2.1"/>
<rect x="100.8" y="2.5" width="726.2" height="726.85" stroke-width="2.8"/>
</g>
<path d="M419.0,522.0H447.0L433,546.0Z" fill="#ff0000"/>
<path d="M488.4,487.2H516.4L502.4,511.2Z" fill="#ff0000"/>
<path d="M590.4,472.4H618.4L604.4,496.4Z" fill="#ff0000"/>
<path d="M682.3,472.4H710.3L696.3,496.4Z" fill="#ff0000"/>
<path d="M691.2,434.2H719.2L705.2,458.2Z" fill="#000"/>
<path d="M724.6,450.9L728.5,462.9L741.1,462.9L730.9,470.4L734.8,482.4L724.6,474.9L714.4,482.4L718.3,470.4L708.1,462.9L720.7,462.9Z" fill="#ffa500" stroke="#000" stroke-width="2" stroke-linejoin="miter"/>
<path d="M724.6,481.3L728.5,493.3L741.1,493.3L730.9,500.8L734.8,512.8L724.6,505.3L714.4,512.8L718.3,500.8L708.1,493.3L720.7,493.3Z" fill="#ffa500" stroke="#000" stroke-width="2" stroke-linejoin="miter"/>
<path d="M724.6,516.3L728.5,528.3L741.1,528.3L730.9,535.8L734.8,547.8L724.6,540.3L714.4,547.8L718.3,535.8L708.1,528.3L720.7,528.3Z" fill="#ffa500" stroke="#000" stroke-width="2" stroke-linejoin="miter"/>
<path d="M725.3,579.6L729.2,591.6L741.8,591.6L731.6,599.1L735.5,611.1L725.3,603.6L715.1,611.1L719.0,599.1L708.8,591.6L721.4,591.6Z" fill="#ffa500" stroke="#000" stroke-width="2" stroke-linejoin="miter"/>
<path d="M726.5,681.6L730.4,693.6L743.0,693.6L732.8,701.1L736.7,713.1L726.5,705.6L716.3,713.1L720.2,701.1L710.0,693.6L722.6,693.6Z" fill="#ffa500" stroke="#000" stroke-width="2" stroke-linejoin="miter"/>
<path d="M101.2,635.6C103.2,635.1 109.2,633.5 113.2,632.4C117.2,631.3 121.2,630.2 125.2,629.1C129.2,628.0 133.2,626.8 137.2,625.6C141.2,624.5 145.2,623.3 149.2,622.1C153.2,620.9 157.2,619.7 161.2,618.5C165.2,617.2 169.2,616.0 173.2,614.7C177.2,613.5 181.2,612.2 185.2,610.9C189.2,609.6 193.2,608.3 197.2,607.1C201.2,605.8 205.2,604.4 209.2,603.1C213.2,601.8 217.2,600.5 221.2,599.2C225.2,597.8 229.2,596.5 233.2,595.2C237.2,593.8 241.2,592.5 245.2,591.2C249.2,589.8 253.2,588.5 257.2,587.1C261.2,585.8 265.2,584.5 269.2,583.1C273.2,581.8 277.2,580.4 281.2,579.1C285.2,577.8 289.2,576.4 293.2,575.1C297.2,573.8 301.2,572.5 305.2,571.2C309.2,569.9 313.2,568.6 317.2,567.3C321.2,566.0 325.2,564.7 329.2,563.4C333.2,562.1 337.2,560.9 341.2,559.6C345.2,558.4 349.2,557.2 353.2,555.9C357.2,554.7 361.2,553.5 365.2,552.3C369.2,551.1 373.2,550.0 377.2,548.8C381.2,547.7 385.2,546.5 389.2,545.4C393.2,544.3 397.2,543.2 401.2,542.1C405.2,541.1 409.2,540.0 413.2,539.0C417.2,538.0 421.2,537.0 425.2,536.0C429.2,535.0 433.2,534.1 437.2,533.1C441.2,532.2 445.2,531.3 449.2,530.4C453.2,529.6 457.2,528.7 461.2,527.9C465.2,527.1 469.2,526.3 473.2,525.5C477.2,524.7 481.2,523.9 485.2,523.2C489.2,522.4 493.2,521.7 497.2,521.0C501.2,520.3 505.2,519.6 509.2,519.0C513.2,518.3 517.2,517.7 521.2,517.0C525.2,516.4 529.2,515.8 533.2,515.2C537.2,514.6 541.2,514.1 545.2,513.5C549.2,512.9 553.2,512.4 557.2,511.9C561.2,511.3 565.2,510.8 569.2,510.3C573.2,509.8 577.2,509.3 581.2,508.8C585.2,508.4 589.2,507.9 593.2,507.4C597.2,507.0 601.2,506.6 605.2,506.1C609.2,505.7 613.2,505.3 617.2,505.0C621.2,504.6 625.2,504.3 629.2,504.0C633.2,503.7 637.2,503.5 641.2,503.3C645.2,503.1 649.2,502.9 653.2,502.9C657.2,502.8 661.2,502.7 665.2,502.8C669.2,502.8 673.2,502.9 677.2,503.1C681.2,503.3 685.5,503.5 689.2,503.8C692.9,504.1 694.7,504.2 699.2,504.9C703.7,505.5 710.1,505.9 716.3,507.5C722.5,509.1 730.5,511.6 736.3,514.4C742.1,517.2 746.6,520.7 750.9,524.1C755.1,527.5 760.0,533.2 761.8,535.0" fill="none" clip-path="url(#ax2)" stroke="#ff0000" stroke-width="3.5" stroke-dasharray="17.3 11.5" stroke-dashoffset="13.5" stroke-linecap="round"/>
<path d="M412,38.7H474.6" stroke="#cc99ff" stroke-width="7" stroke-linecap="round"/>
<path d="M412,76.2H474.6" stroke="#800080" stroke-width="7" stroke-linecap="round"/>
<path d="M412,113.7H474.6" stroke="#6495ed" stroke-width="7" stroke-linecap="round"/>
<path d="M412,151.2H474.6" stroke="#ffa500" stroke-width="7" stroke-linecap="round"/>
<path d="M412,188.7H474.6" stroke="#008000" stroke-width="7" stroke-linecap="round"/>
<path d="M412,226.2H474.6" stroke="#0000ff" stroke-width="7" stroke-linecap="round"/>
<path d="M412,263.7H426.6M438.2,263.7H455.5M466.8,263.7H474.6" stroke="#ff0000" stroke-width="7" stroke-linecap="round"/>
<g font-family="'Liberation Serif', serif" fill="#000" stroke="#fff" stroke-width="0.25" paint-order="fill stroke" opacity="0.999">
<text x="508.5" y="49.2" font-size="34" font-style="italic" textLength="32.5" lengthAdjust="spacingAndGlyphs" text-anchor="start">M</text>
<text x="542" y="54.2" font-size="22.5" textLength="31.5" lengthAdjust="spacingAndGlyphs" text-anchor="start">He</text>
<text x="584.5" y="51.0" font-size="34" textLength="28" lengthAdjust="spacingAndGlyphs" text-anchor="start">=</text>
<text x="621.3" y="49.2" font-size="34" textLength="43.5" lengthAdjust="spacingAndGlyphs" text-anchor="start">1.3</text>
<text x="667.5" y="49.2" font-size="34" font-style="italic" textLength="33" lengthAdjust="spacingAndGlyphs" text-anchor="start">M</text>
<circle cx="716.2" cy="40.400000000000006" r="11.55" fill="none" stroke="#000" stroke-width="1.3"/><circle cx="716.2" cy="40.400000000000006" r="2.0" fill="#000"/>
<text x="508.5" y="86.7" font-size="34" font-style="italic" textLength="32.5" lengthAdjust="spacingAndGlyphs" text-anchor="start">M</text>
<text x="542" y="91.7" font-size="22.5" textLength="31.5" lengthAdjust="spacingAndGlyphs" text-anchor="start">He</text>
<text x="584.5" y="88.5" font-size="34" textLength="28" lengthAdjust="spacingAndGlyphs" text-anchor="start">=</text>
<text x="621.3" y="86.7" font-size="34" textLength="43.5" lengthAdjust="spacingAndGlyphs" text-anchor="start">1.4</text>
<text x="667.5" y="86.7" font-size="34" font-style="italic" textLength="33" lengthAdjust="spacingAndGlyphs" text-anchor="start">M</text>
<circle cx="716.2" cy="77.9" r="11.55" fill="none" stroke="#000" stroke-width="1.3"/><circle cx="716.2" cy="77.9" r="2.0" fill="#000"/>
<text x="508.5" y="124.2" font-size="34" font-style="italic" textLength="32.5" lengthAdjust="spacingAndGlyphs" text-anchor="start">M</text>
<text x="542" y="129.2" font-size="22.5" textLength="31.5" lengthAdjust="spacingAndGlyphs" text-anchor="start">He</text>
<text x="584.5" y="126.0" font-size="34" textLength="28" lengthAdjust="spacingAndGlyphs" text-anchor="start">=</text>
<text x="621.3" y="124.2" font-size="34" textLength="43.5" lengthAdjust="spacingAndGlyphs" text-anchor="start">1.5</text>
<text x="667.5" y="124.2" font-size="34" font-style="italic" textLength="33" lengthAdjust="spacingAndGlyphs" text-anchor="start">M</text>
<circle cx="716.2" cy="115.4" r="11.55" fill="none" stroke="#000" stroke-width="1.3"/><circle cx="716.2" cy="115.4" r="2.0" fill="#000"/>
<text x="508.5" y="161.7" font-size="34" font-style="italic" textLength="32.5" lengthAdjust="spacingAndGlyphs" text-anchor="start">M</text>
<text x="542" y="166.7" font-size="22.5" textLength="31.5" lengthAdjust="spacingAndGlyphs" text-anchor="start">He</text>
<text x="584.5" y="163.5" font-size="34" textLength="28" lengthAdjust="spacingAndGlyphs" text-anchor="start">=</text>
<text x="621.3" y="161.7" font-size="34" textLength="43.5" lengthAdjust="spacingAndGlyphs" text-anchor="start">1.6</text>
<text x="667.5" y="161.7" font-size="34" font-style="italic" textLength="33" lengthAdjust="spacingAndGlyphs" text-anchor="start">M</text>
<circle cx="716.2" cy="152.89999999999998" r="11.55" fill="none" stroke="#000" stroke-width="1.3"/><circle cx="716.2" cy="152.89999999999998" r="2.0" fill="#000"/>
<text x="508.5" y="199.2" font-size="34" font-style="italic" textLength="32.5" lengthAdjust="spacingAndGlyphs" text-anchor="start">M</text>
<text x="542" y="204.2" font-size="22.5" textLength="31.5" lengthAdjust="spacingAndGlyphs" text-anchor="start">He</text>
<text x="584.5" y="201.0" font-size="34" textLength="28" lengthAdjust="spacingAndGlyphs" text-anchor="start">=</text>
<text x="621.3" y="199.2" font-size="34" textLength="43.5" lengthAdjust="spacingAndGlyphs" text-anchor="start">1.7</text>
<text x="667.5" y="199.2" font-size="34" font-style="italic" textLength="33" lengthAdjust="spacingAndGlyphs" text-anchor="start">M</text>
<circle cx="716.2" cy="190.39999999999998" r="11.55" fill="none" stroke="#000" stroke-width="1.3"/><circle cx="716.2" cy="190.39999999999998" r="2.0" fill="#000"/>
<text x="508.5" y="236.7" font-size="34" font-style="italic" textLength="32.5" lengthAdjust="spacingAndGlyphs" text-anchor="start">M</text>
<text x="542" y="241.7" font-size="22.5" textLength="31.5" lengthAdjust="spacingAndGlyphs" text-anchor="start">He</text>
<text x="584.5" y="238.5" font-size="34" textLength="28" lengthAdjust="spacingAndGlyphs" text-anchor="start">=</text>
<text x="621.3" y="236.7" font-size="34" textLength="43.5" lengthAdjust="spacingAndGlyphs" text-anchor="start">1.8</text>
<text x="667.5" y="236.7" font-size="34" font-style="italic" textLength="33" lengthAdjust="spacingAndGlyphs" text-anchor="start">M</text>
<circle cx="716.2" cy="227.89999999999998" r="11.55" fill="none" stroke="#000" stroke-width="1.3"/><circle cx="716.2" cy="227.89999999999998" r="2.0" fill="#000"/>
<text x="508.5" y="274.2" font-size="34" font-style="italic" textLength="32.5" lengthAdjust="spacingAndGlyphs" text-anchor="start">M</text>
<circle cx="528.9" cy="244.2" r="1.9"/>
<text x="542.5" y="278.7" font-size="22.5" textLength="79" lengthAdjust="spacingAndGlyphs" text-anchor="start">Steady</text>
<text x="162.3" y="766.8" font-size="29" textLength="34.4" lengthAdjust="spacingAndGlyphs" text-anchor="middle">1.0</text>
<text x="313.5" y="766.8" font-size="29" textLength="34.4" lengthAdjust="spacingAndGlyphs" text-anchor="middle">1.1</text>
<text x="464.8" y="766.8" font-size="29" textLength="34.4" lengthAdjust="spacingAndGlyphs" text-anchor="middle">1.2</text>
<text x="616.0" y="766.8" font-size="29" textLength="34.4" lengthAdjust="spacingAndGlyphs" text-anchor="middle">1.3</text>
<text x="767.3" y="766.8" font-size="29" textLength="34.4" lengthAdjust="spacingAndGlyphs" text-anchor="middle">1.4</text>
<text x="342" y="812.3" font-size="34" textLength="61" lengthAdjust="spacingAndGlyphs" text-anchor="start">WD</text>
<text x="415.8" y="812.3" font-size="34" textLength="74.6" lengthAdjust="spacingAndGlyphs" text-anchor="start">Mass</text>
<text x="503.8" y="812.3" font-size="37.6" textLength="11" lengthAdjust="spacingAndGlyphs" text-anchor="start">(</text>
<text x="517.2" y="812.3" font-size="34" font-style="italic" textLength="36" lengthAdjust="spacingAndGlyphs" text-anchor="start">M</text>
<circle cx="560" cy="810.7" r="8.90" fill="none" stroke="#000" stroke-width="1.2"/><circle cx="560" cy="810.7" r="1.8" fill="#000"/>
<text x="573.2" y="812.3" font-size="37.6" textLength="11" lengthAdjust="spacingAndGlyphs" text-anchor="start">)</text>
<g transform="translate(25.5,0) rotate(-90)">
<text x="-590.0" y="0" font-size="34" textLength="74.6" lengthAdjust="spacingAndGlyphs" text-anchor="start">Mass</text>
<text x="-502.6" y="0" font-size="34" textLength="123" lengthAdjust="spacingAndGlyphs" text-anchor="start">Transfer</text>
<text x="-366.6" y="0" font-size="34" textLength="71" lengthAdjust="spacingAndGlyphs" text-anchor="start">Rate</text>
<text x="-284.0" y="1.2" font-size="37.6" textLength="11" lengthAdjust="spacingAndGlyphs" text-anchor="start">(</text>
<text x="-258.0" y="0" font-size="34" font-style="italic" textLength="36" lengthAdjust="spacingAndGlyphs" text-anchor="start">M</text>
<path d="M-200.7,8.2L-188.0,-24.6" stroke="#000" stroke-width="1.3" fill="none"/>
<text x="-185.2" y="0" font-size="34" textLength="30.5" lengthAdjust="spacingAndGlyphs" text-anchor="start">yr</text>
<text x="-153.0" y="1.2" font-size="37.6" textLength="11" lengthAdjust="spacingAndGlyphs" text-anchor="start">)</text>
</g>
<circle cx="25.4" cy="215" r="8.80" fill="none" stroke="#000" stroke-width="1.2"/><circle cx="25.4" cy="215" r="1.8" fill="#000"/>
<g transform="translate(78.3,164.2) rotate(-90)">
<text x="0" y="0" font-size="29" textLength="26.5" lengthAdjust="spacingAndGlyphs" text-anchor="start">10</text>
<text x="28" y="-10.5" font-size="20.5" textLength="16" lengthAdjust="spacingAndGlyphs" text-anchor="start">−</text>
<text x="46.3" y="-10.5" font-size="20.5" textLength="9.8" lengthAdjust="spacingAndGlyphs" text-anchor="start">5</text>
</g>
<g transform="translate(78.3,648.6) rotate(-90)">
<text x="0" y="0" font-size="29" textLength="26.5" lengthAdjust="spacingAndGlyphs" text-anchor="start">10</text>
<text x="28" y="-10.5" font-size="20.5" textLength="16" lengthAdjust="spacingAndGlyphs" text-anchor="start">−</text>
<text x="46.3" y="-10.5" font-size="20.5" textLength="9.8" lengthAdjust="spacingAndGlyphs" text-anchor="start">6</text>
</g>
<text x="664.5" y="425.9" font-size="34" textLength="141" lengthAdjust="spacingAndGlyphs" text-anchor="start">Shell Ign.</text>
<g transform="translate(739.4,435.5) rotate(70)">
<text x="0" y="0" font-size="34" textLength="169.5" lengthAdjust="spacingAndGlyphs" text-anchor="start">Center Ign.</text>
</g>
</g>
</svg>
</body></html>
